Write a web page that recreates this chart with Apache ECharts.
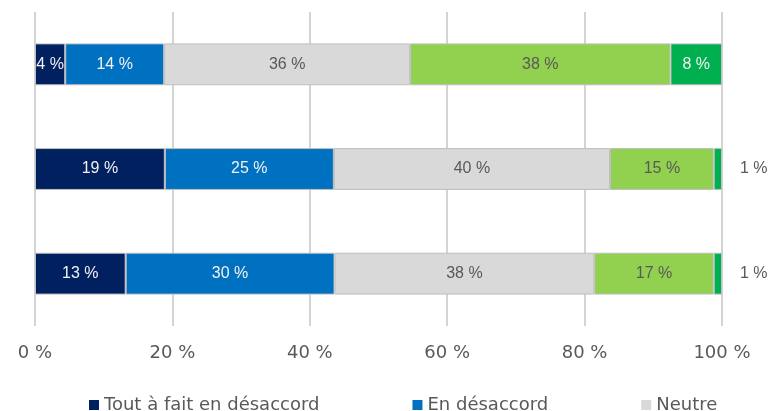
<!DOCTYPE html>
<html>
<head>
<meta charset="utf-8">
<script src="https://cdn.jsdelivr.net/npm/echarts@6/dist/echarts.min.js"></script>
<style>
  html, body { margin: 0; padding: 0; background: #fff; }
  #chart { width: 771px; height: 411px; }
</style>
</head>
<body>
<div id="chart"></div>
<script>
// three questions, top to bottom (no visible names in the picture)
const categories = ['Q1', 'Q2', 'Q3'];
const seriesNames = ['Tout à fait en désaccord', 'En désaccord', 'Neutre', "D'accord", "Tout à fait d'accord"];
const colors = ['#002060', '#0070C0', '#D9D9D9', '#92D050', '#00B050'];
const labelColors = ['#f2f2f2', '#f2f2f2', '#595959', '#595959', '#f2f2f2'];

const toutDesaccord = [4.4, 18.9, 13.2];
const desaccord = [14.4, 24.6, 30.4];
const neutre = [35.8, 40.2, 37.8];
const accord = [37.9, 15.1, 17.4];
const toutAccord = [7.5, 1.2, 1.2];

const values = [toutDesaccord, desaccord, neutre, accord, toutAccord];
const xTicks = [0, 20, 40, 60, 80, 100];

const chart = echarts.init(document.getElementById('chart'));

const series = values.map((vals, i) => ({
    name: seriesNames[i],
    type: 'bar',
    stack: 'total',
    barCategoryGap: '60%',
    itemStyle: { color: colors[i], borderColor: '#BFBFBF', borderWidth: 1 },
    data: vals.map(v => {
        const small = v < 3;
        return {
            value: v,
            label: small
                ? { position: 'right', distance: 18, color: '#595959' }
                : { position: 'inside', color: labelColors[i] }
        };
    }),
    label: {
        show: true,
        fontFamily: '"Liberation Sans Narrow", "Arial Narrow", "Liberation Sans", Arial, sans-serif',
        fontSize: 16,
        formatter: p => Math.round(p.value) + ' %'
    }
}));

const option = {
    animation: false,
    grid: { left: 35, right: 49, top: 12, bottom: 85, containLabel: false },
    legend: {
        data: seriesNames,
        left: 84,
        top: 391,
        width: 670,
        itemWidth: 10,
        itemHeight: 10,
        itemGap: 93,
        icon: 'rect',
        itemStyle: { borderWidth: 0 },
        textStyle: { fontFamily: '"DejaVu Sans", Verdana, sans-serif', fontSize: 18, color: '#595959' }
    },
    xAxis: {
        type: 'value',
        min: 0,
        max: 100,
        interval: 20,
        axisLine: { show: false },
        axisTick: { show: false },
        splitLine: { lineStyle: { color: '#C6C6C6', width: 1.5 } },
        axisLabel: {
            margin: 18,
            color: '#595959',
            fontFamily: '"DejaVu Sans", Verdana, sans-serif',
            fontSize: 18,
            formatter: v => xTicks.includes(v) ? v + ' %' : ''
        }
    },
    yAxis: {
        type: 'category',
        data: categories,
        inverse: true,
        axisLine: { show: false },
        axisTick: { show: false },
        axisLabel: { show: false }
    },
    series: series
};

chart.setOption(option);
</script>
</body>
</html>
